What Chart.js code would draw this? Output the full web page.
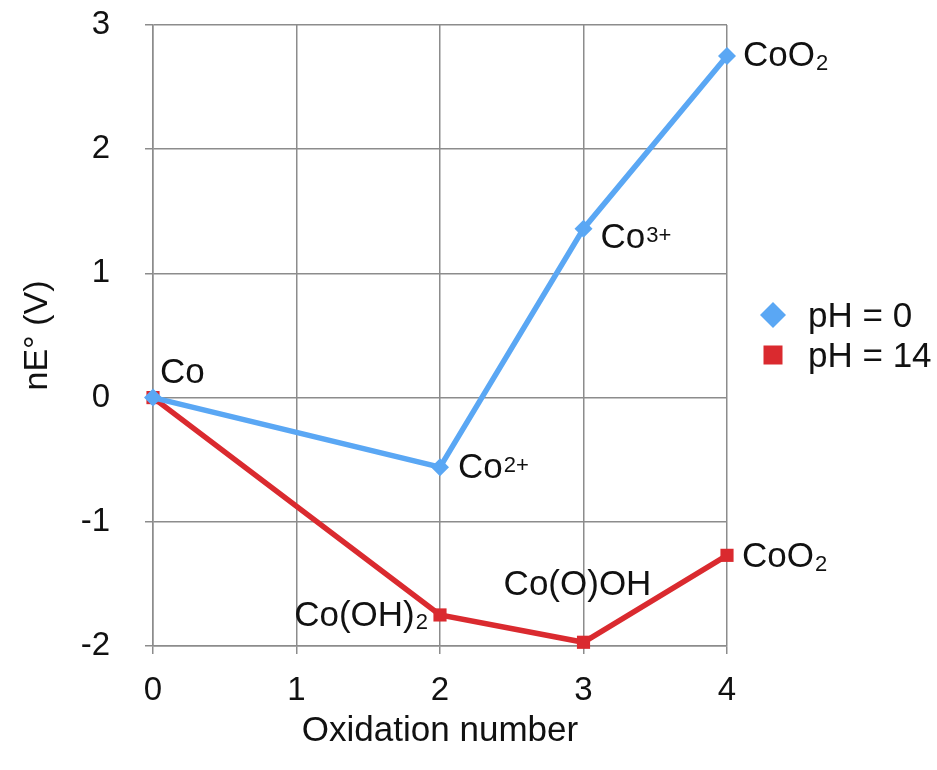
<!DOCTYPE html>
<html>
<head>
<meta charset="utf-8">
<script src="https://cdn.jsdelivr.net/npm/chart.js@4.4.1/dist/chart.umd.min.js"></script>
<style>
html, body { margin: 0; padding: 0; background: #fff; }
</style>
</head>
<body>
<canvas id="myChart" width="937" height="770"></canvas>
<script>
// values
var oxidationStates = [0, 2, 3, 4];
var nE_pH0 = [0, -0.56, 1.36, 2.75];
var nE_pH14 = [0, -1.75, -1.97, -1.27];
var species_pH0 = ['Co', 'Co^2+', 'Co^3+', 'CoO_2'];
var species_pH14 = ['', 'Co(OH)_2', 'Co(O)OH', 'CoO_2'];
var seriesNames = ['pH = 0', 'pH = 14'];
var xTicks = [0, 1, 2, 3, 4];
var yTicks = [-2, -1, 0, 1, 2, 3];

var FONT = '"Liberation Sans", Arial, Helvetica, sans-serif';
var BLUE = '#5aa7f4';
var RED = '#da2a2f';
var GRID = '#8c8c8c';

function toPoints(ys) {
    var pts = [];
    for (var i = 0; i < oxidationStates.length; i++) {
        pts.push({ x: oxidationStates[i], y: ys[i] });
    }
    return pts;
}

// draws "CoO_2" / "Co^2+" with a trailing sub/superscript
function drawFormula(ctx, text, x, y, align, size) {
    var m = text.match(/^([^_^]*)(?:([_^])(.*))?$/);
    var main = m[1], kind = m[2], script = m[3] || '';
    var small = Math.round(size * 0.62);
    ctx.font = size + 'px ' + FONT;
    var wMain = ctx.measureText(main).width;
    ctx.font = small + 'px ' + FONT;
    var wScript = script ? ctx.measureText(script).width + 1 : 0;
    var total = wMain + wScript;
    if (align == 'right') x -= total;
    if (align == 'center') x -= total / 2;
    ctx.textAlign = 'left';
    ctx.textBaseline = 'alphabetic';
    ctx.fillStyle = '#111';
    ctx.font = size + 'px ' + FONT;
    ctx.fillText(main, x, y);
    if (script) {
        ctx.font = small + 'px ' + FONT;
        var dy = kind == '_' ? size * 0.1 : -size * 0.17;
        ctx.fillText(script, x + wMain + 1, y + dy);
    }
}

var speciesLabels = {
    id: 'speciesLabels',
    afterDatasetsDraw: function(chart) {
        var ctx = chart.ctx;
        var sets = [species_pH0, species_pH14];
        // offset from the point: dx, dy (baseline), alignment
        var place = [
            [[7, -15, 'left'], [18, 11, 'left'], [17, 19, 'left'], [16, 10, 'left']],
            [null, [-12, 11, 'right'], [-6, -47, 'center'], [15, 12, 'left']]
        ];
        ctx.save();
        for (var d = 0; d < sets.length; d++) {
            var meta = chart.getDatasetMeta(d);
            for (var i = 0; i < sets[d].length; i++) {
                if (!sets[d][i]) continue;
                var pt = meta.data[i];
                var p = place[d][i];
                drawFormula(ctx, sets[d][i], pt.x + p[0], pt.y + p[1], p[2], 35);
            }
        }
        ctx.restore();
    }
};

var sideLegend = {
    id: 'sideLegend',
    afterDraw: function(chart) {
        var ctx = chart.ctx;
        var x = 773, y0 = 315, gap = 40;
        ctx.save();
        // diamond
        ctx.fillStyle = chart.data.datasets[0].borderColor;
        ctx.beginPath();
        ctx.moveTo(x - 13, y0);
        ctx.lineTo(x, y0 - 13);
        ctx.lineTo(x + 13, y0);
        ctx.lineTo(x, y0 + 13);
        ctx.closePath();
        ctx.fill();
        // square
        ctx.fillStyle = chart.data.datasets[1].borderColor;
        ctx.fillRect(x - 9.5, y0 + gap - 9.5, 19, 19);
        ctx.fillStyle = '#111';
        ctx.font = '35px ' + FONT;
        ctx.textAlign = 'left';
        ctx.textBaseline = 'alphabetic';
        for (var i = 0; i < seriesNames.length; i++) {
            ctx.fillText(seriesNames[i], 808, y0 + 12 + i * gap);
        }
        ctx.restore();
    }
};

var canvas = document.getElementById('myChart').getContext('2d');
var chart = new Chart(canvas, {
    type: 'line',
    data: {
        datasets: [{
            label: seriesNames[0],
            data: toPoints(nE_pH0),
            borderColor: BLUE,
            backgroundColor: BLUE,
            borderWidth: 5.5,
            pointStyle: 'rectRot',
            pointRadius: 9,
            pointBorderWidth: 0,
            tension: 0,
            clip: false
        }, {
            label: seriesNames[1],
            data: toPoints(nE_pH14),
            borderColor: RED,
            backgroundColor: RED,
            borderWidth: 5.5,
            pointStyle: 'rect',
            pointRadius: 9.3,
            pointBorderWidth: 0,
            tension: 0,
            clip: false
        }]
    },
    options: {
        responsive: false,
        animation: false,
        layout: { padding: { left: 0, right: 210, top: 25, bottom: 0 } },
        plugins: {
            legend: { display: false },
            tooltip: { enabled: false }
        },
        scales: {
            x: {
                type: 'linear',
                min: 0,
                max: 4,
                afterBuildTicks: function(scale) {
                    scale.ticks = xTicks.map(function(v) { return { value: v }; });
                },
                afterFit: function(scale) {
                    scale.height = 124;
                    scale.paddingLeft = 0;
                    scale.paddingRight = 0;
                },
                grid: { color: GRID, lineWidth: 1.5, tickLength: 8, tickColor: GRID },
                border: { color: GRID, width: 1.5 },
                ticks: { color: '#111', font: { family: FONT, size: 33 }, padding: 17, maxRotation: 0 },
                title: {
                    display: true,
                    text: 'Oxidation number',
                    color: '#111',
                    font: { family: FONT, size: 35 },
                    padding: { top: 0, bottom: 18 }
                }
            },
            y: {
                type: 'linear',
                min: -2,
                max: 3,
                afterBuildTicks: function(scale) {
                    scale.ticks = yTicks.map(function(v) { return { value: v }; });
                },
                afterFit: function(scale) {
                    scale.width = 153;
                    scale.paddingTop = 0;
                    scale.paddingBottom = 0;
                },
                grid: { color: GRID, lineWidth: 1.5, tickLength: 8, tickColor: GRID },
                border: { color: GRID, width: 1.5 },
                ticks: { color: '#111', font: { family: FONT, size: 33 }, padding: 35 },
                title: {
                    display: true,
                    text: 'nE° (V)',
                    color: '#111',
                    font: { family: FONT, size: 34 },
                    padding: { top: 17, bottom: 0 }
                }
            }
        }
    },
    plugins: [speciesLabels, sideLegend]
});
</script>
</body>
</html>
